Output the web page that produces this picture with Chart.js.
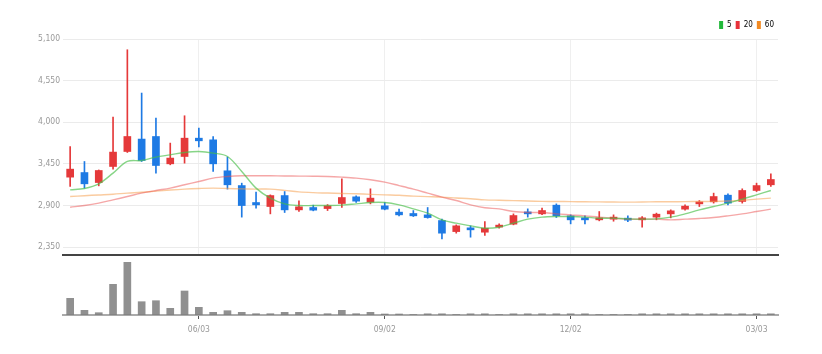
<!DOCTYPE html>
<html>
<head>
<meta charset="utf-8">
<script src="https://cdn.jsdelivr.net/npm/chart.js@4.4.1/dist/chart.umd.min.js"></script>
<style>
  html, body { margin: 0; padding: 0; background: #fff; }
  #wrap { position: relative; width: 822px; height: 354px; overflow: hidden; }
  #priceBox { position: absolute; left: 0; top: 3px; width: 822px; height: 260px; }
  #volBox { position: absolute; left: 0; top: 255px; width: 822px; height: 99px; }
</style>
</head>
<body>
<div id="wrap">
  <div id="priceBox"><canvas id="price" width="822" height="260"></canvas></div>
  <div id="volBox"><canvas id="vol" width="822" height="99"></canvas></div>
</div>
<script>
// ---- data (weekly candles) ----
const categories = ["04/01","04/08","04/15","04/22","04/29","05/06","05/13","05/20","05/27","06/03",
  "06/10","06/17","06/24","07/01","07/08","07/15","07/22","07/29","08/05","08/12",
  "08/19","08/26","09/02","09/09","09/16","09/23","09/30","10/07","10/14","10/21",
  "10/28","11/04","11/11","11/18","11/25","12/02","12/09","12/16","12/23","12/30",
  "01/06","01/13","01/20","01/27","02/03","02/10","02/17","02/24","03/03","03/10"];
const tickLabels = ["06/03","09/02","12/02","03/03"];
const yTicks = [2350, 2900, 3450, 4000, 4550, 5100];

const opens  = [3275,3336,3204,3416,3614,3778,3812,3451,3548,3790,
  3768,3359,3164,2940,2887,3032,2843,2874,2860,2927,
  3015,2945,2896,2813,2795,2777,2702,2556,2601,2548,
  2615,2654,2808,2790,2905,2764,2733,2711,2720,2733,
  2711,2747,2790,2852,2922,2949,3037,2954,3099,3174];
const highs  = [3680,3482,3370,4069,4958,4386,4055,3725,4086,3923,
  3812,3540,3196,3077,3041,3085,2962,2905,2913,3253,
  3028,3121,2940,2852,2834,2874,2720,2645,2632,2688,
  2658,2790,2856,2866,2922,2777,2764,2821,2777,2764,
  2755,2800,2843,2909,2966,3064,3055,3121,3196,3319];
const lows   = [3151,3130,3160,3381,3601,3482,3328,3438,3460,3675,
  3350,3117,2747,2866,2790,2808,2821,2830,2834,2874,
  2940,2922,2843,2764,2755,2733,2460,2535,2482,2504,
  2601,2645,2747,2781,2742,2658,2658,2698,2693,2688,
  2614,2711,2737,2839,2887,2932,2909,2932,3085,3151];
const closes = [3381,3187,3363,3606,3812,3495,3429,3527,3790,3755,
  3451,3174,2900,2909,3032,2843,2883,2839,2896,3006,
  2958,2998,2852,2777,2764,2741,2535,2632,2579,2601,
  2641,2768,2790,2834,2764,2711,2711,2733,2747,2707,
  2733,2786,2830,2892,2945,3019,2932,3099,3164,3244];
const volumes = [167000,47000,23000,307000,527000,133000,143000,67000,240000,77000,
  27000,43000,27000,13000,13000,27000,27000,13000,13000,47000,
  13000,27000,10000,10000,5000,12000,12000,5000,12000,12000,
  5000,12000,12000,12000,12000,12000,12000,5000,5000,5000,
  12000,12000,12000,12000,12000,12000,12000,12000,12000,12000];
const ma5  = [3107,3125,3187,3328,3482,3495,3540,3570,3601,3614,
  3593,3548,3350,3130,2998,2922,2900,2900,2900,2905,
  2922,2940,2940,2909,2856,2800,2711,2667,2632,2600,
  2614,2667,2720,2747,2755,2755,2747,2733,2733,2724,
  2720,2724,2747,2790,2843,2887,2932,2984,3041,3099];
const ma20 = [2878,2900,2932,2975,3019,3064,3099,3130,3174,3217,
  3262,3283,3293,3293,3293,3291,3289,3287,3284,3275,
  3262,3240,3209,3164,3117,3064,3011,2966,2909,2870,
  2856,2821,2808,2808,2790,2777,2764,2747,2733,2720,
  2720,2720,2711,2720,2729,2742,2764,2790,2821,2852];
const ma60 = [3019,3030,3040,3050,3064,3075,3090,3105,3117,3125,
  3130,3125,3120,3117,3117,3100,3080,3070,3065,3060,
  3055,3048,3041,3035,3025,3018,3011,3000,2990,2975,
  2970,2965,2960,2955,2953,2952,2950,2948,2946,2945,
  2947,2950,2950,2952,2953,2955,2960,2970,2985,2998];
const maNames = ["5", "20", "60"];

// ---- styling ----
const RED = '#e5393a', BLUE = '#1e7ae4';
const FONT = "'Liberation Sans Narrow', 'DejaVu Sans Condensed', 'Roboto', sans-serif";
const candleColors = closes.map((c, i) => c >= opens[i] ? RED : BLUE);
const bodies = opens.map((o, i) => [o, closes[i]]);
const wicks = lows.map((l, i) => [l, highs[i]]);
const isLabeled = i => tickLabels.includes(categories[i]);
const legendColors = ['#22b83a', '#e8323a', '#f28a22'];

new Chart(document.getElementById('price'), {
  data: {
    labels: categories,
    datasets: [
      { type: 'line', label: maNames[0], data: ma5, borderColor: 'rgba(70,190,70,0.65)', borderWidth: 1.4, pointRadius: 0, tension: 0.35, order: 0 },
      { type: 'line', label: maNames[1], data: ma20, borderColor: 'rgba(235,80,80,0.5)', borderWidth: 1.4, pointRadius: 0, tension: 0.35, order: 0 },
      { type: 'line', label: maNames[2], data: ma60, borderColor: 'rgba(245,160,80,0.55)', borderWidth: 1.4, pointRadius: 0, tension: 0.35, order: 0 },
      { type: 'bar', label: 'body', data: bodies, backgroundColor: candleColors, barThickness: 7, minBarLength: 2, grouped: false, order: 1 },
      { type: 'bar', label: 'wick', data: wicks, backgroundColor: candleColors, barThickness: 1, grouped: false, order: 2 }
    ]
  },
  options: {
    responsive: false,
    animation: false,
    layout: { padding: { top: 14, right: 44, left: 0, bottom: 0 } },
    plugins: {
      tooltip: { enabled: false },
      legend: {
        display: true, position: 'top', align: 'end',
        labels: {
          boxWidth: 4, boxHeight: 8, padding: 4,
          font: { family: FONT, size: 8 }, color: '#999',
          generateLabels: () => maNames.map((n, i) => ({
            text: n, fillStyle: legendColors[i], strokeStyle: legendColors[i], lineWidth: 0, hidden: false, datasetIndex: i
          }))
        },
        onClick: null
      }
    },
    scales: {
      x: {
        type: 'category', offset: true,
        grid: { offset: false, drawTicks: false, color: ctx => isLabeled(ctx.index) ? '#efefef' : 'rgba(0,0,0,0)' },
        ticks: { display: false, autoSkip: false },
        border: { color: '#444', width: 2 },
        afterFit: s => { s.height = 5; }
      },
      y: {
        min: 2248, max: 5100,
        afterBuildTicks: s => { s.ticks = yTicks.map(v => ({ value: v })); },
        ticks: { callback: v => v.toLocaleString('en-US'), font: { family: FONT, size: 8.5 }, color: '#999', padding: 3 },
        grid: { color: '#ebebeb', drawTicks: false },
        border: { display: false },
        afterFit: s => { s.width = 63; }
      }
    }
  }
});

new Chart(document.getElementById('vol'), {
  type: 'bar',
  data: {
    labels: categories,
    datasets: [{ label: 'volume', data: volumes, backgroundColor: 'rgba(125,125,125,0.85)', barThickness: 7 }]
  },
  options: {
    responsive: false,
    animation: false,
    layout: { padding: { top: 3, right: 44, left: 63, bottom: 0 } },
    plugins: { legend: { display: false }, tooltip: { enabled: false } },
    scales: {
      x: {
        type: 'category', offset: true,
        grid: { offset: false, drawOnChartArea: false, drawTicks: true, tickLength: 4, color: ctx => isLabeled(ctx.index) ? '#555' : 'rgba(0,0,0,0)' },
        ticks: { autoSkip: false, maxRotation: 0, padding: 6, font: { family: FONT, size: 8.5 }, color: '#999',
          callback: (v, i) => isLabeled(i) ? categories[i] : '' },
        border: { color: '#aaa', width: 2 },
        afterFit: s => { s.height = 39; }
      },
      y: { display: false, min: 0, max: 570000 }
    }
  }
});
</script>
</body>
</html>
